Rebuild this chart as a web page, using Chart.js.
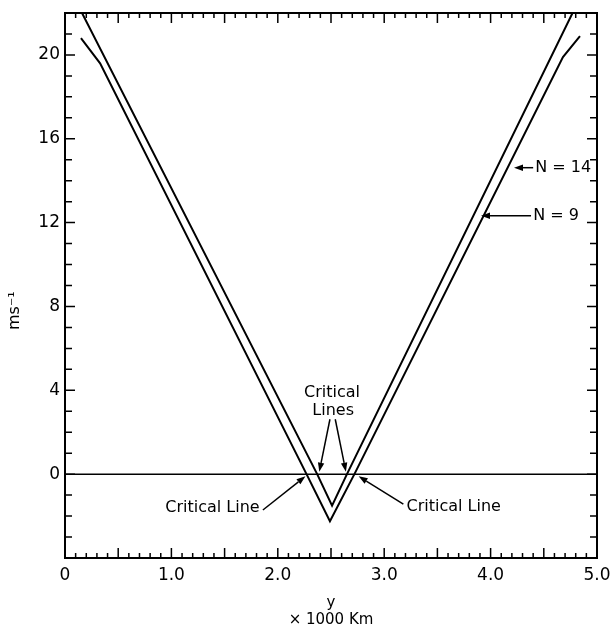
<!DOCTYPE html>
<html><head><meta charset="utf-8">
<script src="https://cdn.jsdelivr.net/npm/chart.js@4.4.1/dist/chart.umd.min.js"></script>
<style>html,body{margin:0;padding:0;background:#fff}#wrap{width:611px;height:631px}</style>
</head><body><div id="wrap"><canvas id="c" width="611" height="631"></canvas></div>
<script>
// ---- data ----
const seriesN14X = [0.15, 0.33, 2.27, 2.49, 2.72, 4.68, 4.84];
const seriesN14Y = [20.8, 19.6, 0, -2.25, 0, 19.9, 20.9];
const seriesN9X = [0.16, 2.37, 2.51, 2.65, 4.77];
const seriesN9Y = [22, 0, -1.5, 0, 22];
const zeroLineX = [0, 5];
const zeroLineY = [0, 0];
const xTickValues = [0, 1, 2, 3, 4, 5];
const xTickLabels = ['0', '1.0', '2.0', '3.0', '4.0', '5.0'];
const yTickValues = [0, 4, 8, 12, 16, 20];
const yTickLabels = ['0', '4', '8', '12', '16', '20'];
const xTitle = ['y', '\u00d7 1000 Km'];
const yTitle = 'ms\u207b\u00b9';

const toPts = (xs, ys) => xs.map((x, i) => ({x, y: ys[i]}));

const FONT = 'DejaVu Sans';

// annotation texts and arrows (placed in data coordinates)
const annotations = {
  texts: [
    {t: 'Critical', x: 2.51, y: 3.86, align: 'center'},
    {t: 'Lines', x: 2.52, y: 3.0, align: 'center'},
    {t: 'Critical Line', x: 1.83, y: -1.62, align: 'right'},
    {t: 'Critical Line', x: 3.21, y: -1.57, align: 'left'},
    {t: 'N = 14', x: 4.42, y: 14.62, align: 'left'},
    {t: 'N = 9', x: 4.40, y: 12.33, align: 'left'}
  ],
  arrows: [
    {x0: 2.49, y0: 2.62, x1: 2.39, y1: 0.12},
    {x0: 2.54, y0: 2.62, x1: 2.64, y1: 0.12},
    {x0: 1.86, y0: -1.71, x1: 2.26, y1: -0.1},
    {x0: 3.18, y0: -1.43, x1: 2.76, y1: -0.1},
    {x0: 4.40, y0: 14.62, x1: 4.22, y1: 14.62},
    {x0: 4.38, y0: 12.33, x1: 3.91, y1: 12.33}
  ]
};

const framePlugin = {
  id: 'frame',
  afterDatasetsDraw(chart) {
    const {ctx, chartArea: {left, right, top, bottom}, scales: {x, y}} = chart;
    ctx.save();
    ctx.strokeStyle = '#000';
    ctx.fillStyle = '#000';
    ctx.lineWidth = 2;
    ctx.strokeRect(left, top, right - left, bottom - top);
    ctx.lineWidth = 1.5;
    ctx.beginPath();
    for (let i = 0; i <= 50; i++) {
      const px = x.getPixelForValue(i / 10);
      const len = (i % 5 === 0) ? 10 : 5;
      ctx.moveTo(px, bottom); ctx.lineTo(px, bottom - len);
      ctx.moveTo(px, top); ctx.lineTo(px, top + len);
    }
    for (let v = Math.ceil(y.min); v <= y.max; v++) {
      const py = y.getPixelForValue(v);
      const len = (v % 4 === 0) ? 10 : 7;
      ctx.moveTo(left, py); ctx.lineTo(left + len, py);
      ctx.moveTo(right, py); ctx.lineTo(right - len, py);
    }
    ctx.stroke();

    // arrows
    ctx.lineWidth = 1.5;
    annotations.arrows.forEach(a => {
      const X0 = x.getPixelForValue(a.x0), Y0 = y.getPixelForValue(a.y0);
      const X1 = x.getPixelForValue(a.x1), Y1 = y.getPixelForValue(a.y1);
      const ang = Math.atan2(Y1 - Y0, X1 - X0);
      const hl = 9, hw = 3.2;
      const bx = X1 - hl * Math.cos(ang), by = Y1 - hl * Math.sin(ang);
      ctx.beginPath();
      ctx.moveTo(X0, Y0); ctx.lineTo(bx, by);
      ctx.stroke();
      ctx.beginPath();
      ctx.moveTo(X1, Y1);
      ctx.lineTo(bx + hw * Math.sin(ang), by - hw * Math.cos(ang));
      ctx.lineTo(bx - hw * Math.sin(ang), by + hw * Math.cos(ang));
      ctx.closePath();
      ctx.fill();
    });

    // texts
    ctx.font = '16px "' + FONT + '"';
    ctx.textBaseline = 'middle';
    annotations.texts.forEach(t => {
      ctx.textAlign = t.align;
      ctx.fillText(t.t, x.getPixelForValue(t.x), y.getPixelForValue(t.y));
    });

    // y axis title
    ctx.save();
    ctx.translate(15, y.getPixelForValue(7.8));
    ctx.rotate(-Math.PI / 2);
    ctx.textAlign = 'center';
    ctx.font = '16px "' + FONT + '"';
    ctx.fillText(yTitle, 0, 0);
    ctx.restore();
    ctx.restore();
  }
};

const lineStyle = {showLine: true, borderColor: '#000', backgroundColor: '#000', borderWidth: 2, pointRadius: 0, tension: 0, fill: false};

new Chart(document.getElementById('c'), {
  type: 'scatter',
  data: {
    datasets: [
      Object.assign({label: 'N = 14', data: toPts(seriesN14X, seriesN14Y)}, lineStyle),
      Object.assign({label: 'N = 9', data: toPts(seriesN9X, seriesN9Y)}, lineStyle),
      Object.assign({label: 'zero', data: toPts(zeroLineX, zeroLineY)}, lineStyle, {borderWidth: 1.5})
    ]
  },
  options: {
    responsive: false,
    animation: false,
    devicePixelRatio: 1,
    layout: {padding: {top: 13, right: 14, left: 0, bottom: 0}},
    plugins: {legend: {display: false}, tooltip: {enabled: false}},
    scales: {
      x: {
        type: 'linear', min: 0, max: 5,
        grid: {display: false, drawTicks: false},
        border: {display: false},
        afterBuildTicks: s => { s.ticks = xTickValues.map(v => ({value: v})); },
        ticks: {autoSkip: false, maxRotation: 0, padding: 7, color: '#000',
          font: {family: FONT, size: 17},
          callback: (v, i) => xTickLabels[i]},
        title: {display: true, text: xTitle, color: '#000',
          font: {family: FONT, size: 15, lineHeight: 1.13}, padding: {top: 0, bottom: 2}},
        afterFit: s => { s.height = 73; s.paddingLeft = 0; s.paddingRight = 0; }
      },
      y: {
        type: 'linear', min: -4, max: 22,
        grid: {display: false, drawTicks: false},
        border: {display: false},
        afterBuildTicks: s => { s.ticks = yTickValues.map(v => ({value: v})); },
        ticks: {autoSkip: false, padding: 5, color: '#000',
          font: {family: FONT, size: 17},
          callback: (v, i) => yTickLabels[i]},
        afterFit: s => { s.width = 65; s.paddingTop = 0; s.paddingBottom = 0; }
      }
    }
  },
  plugins: [framePlugin]
});
</script>
</body></html>
